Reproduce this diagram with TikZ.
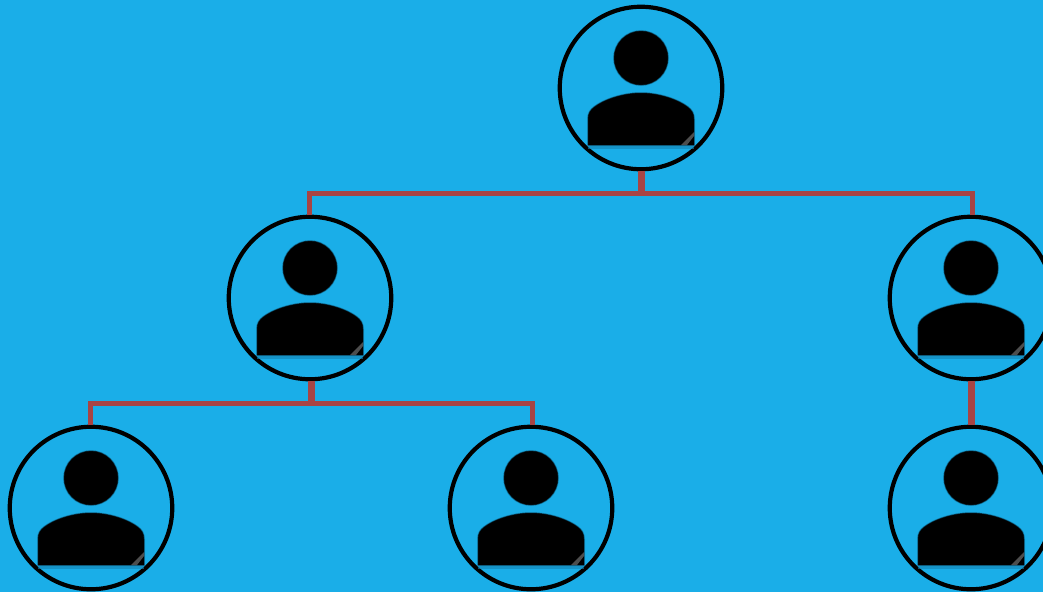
\documentclass[tikz,border=0pt]{standalone}
\usepackage{tikz}
\usetikzlibrary{calc}
\definecolor{skyback}{HTML}{1AAEE8}
\definecolor{linkred}{HTML}{A84444}
\definecolor{haloblue}{HTML}{1484B4}
\tikzset{
  person/.style={circle, draw=black, line width=4.2pt, inner sep=0pt, outer sep=0pt, minimum size=162.5pt},
  link/.style={draw=linkred, line width=5pt, shorten <=1.5pt, shorten >=1.5pt},
  stem/.style={draw=linkred, line width=7pt, shorten <=1.5pt},
  softblack/.style={fill=black, draw=haloblue, draw opacity=0.5, line width=1pt}
}
\newcommand{\personicon}[1]{
  \begin{scope}[shift={(#1)}]
    \fill[haloblue, opacity=0.6] (-53,57) rectangle (53,60.5);
    \path[softblack] (0,-30) circle (27.5pt);
    \path[softblack] (-53.5,57.5) -- (-53.5,31) .. controls (-53.5,25) and (-51,21.5) .. (-47,18.5)
      .. controls (-38,11.5) and (-19,4.5) .. (0,4.5)
      .. controls (19,4.5) and (38,11.5) .. (47,18.5)
      .. controls (51,21.5) and (53.5,25) .. (53.5,31) -- (53.5,57.5) -- cycle;
    \fill[white, opacity=0.3] (40,57) -- (53,44) -- (53,48) -- (46,57) -- cycle;
  \end{scope}
}

\begin{document}
\begin{tikzpicture}[x=1pt, y=-1pt]

\clip (0,0) rectangle (1043,592);
\fill[skyback] (0,0) rectangle (1043,592);

\node[person] (top) at (641,88) {};
\node[person] (midleft) at (310,298) {};
\node[person] (midright) at (971,298) {};
\node[person] (botleft) at (91,508) {};
\node[person] (botmid) at (531,508) {};
\node[person] (botright) at (971,508) {};

\coordinate (barone) at (641,193);
\coordinate (bartwo) at (311,403.5);
\coordinate (stemone) at (641,196);
\coordinate (stemtwo) at (311,406);

\draw[link] ([xshift=-1pt]midleft.north) |- (barone) -| ([xshift=1pt]midright.north);
\draw[link] ([xshift=-1pt]botleft.north) |- (bartwo) -| ([xshift=1pt]botmid.north);
\draw[stem] (top.south) -- (stemone);
\draw[stem] ([xshift=1pt]midleft.south) -- (stemtwo);
\draw[stem, shorten >=1.5pt] (midright.south) -- (botright.north);

\personicon{top}
\personicon{midleft}
\personicon{midright}
\personicon{botleft}
\personicon{botmid}
\personicon{botright}

\end{tikzpicture}
\end{document}
